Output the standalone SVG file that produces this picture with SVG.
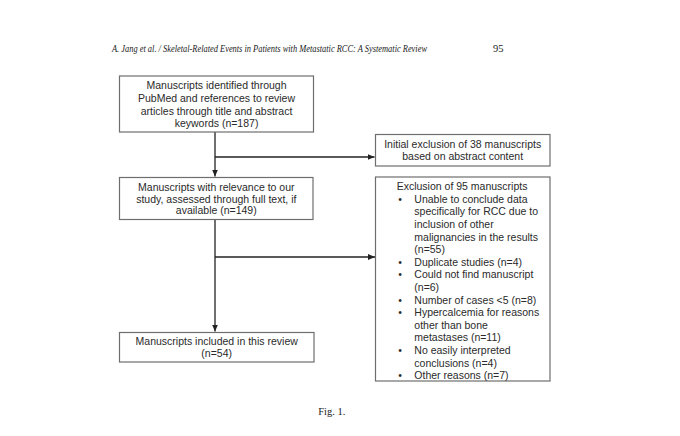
<svg xmlns="http://www.w3.org/2000/svg" width="680" height="436" viewBox="0 0 680 436">
<style>
.bg{fill:#ffffff}
.box{fill:#ffffff;stroke:#6e6e6e;stroke-width:1.2}
.t{font-family:"Liberation Sans",Arial,sans-serif;font-size:10.5px;fill:#2a2a2a}
.c{text-anchor:middle}
.hdr{font-family:"Liberation Serif","Times New Roman",serif;font-style:italic;font-size:10.5px;fill:#222}
.fig{font-family:"Liberation Serif","Times New Roman",serif;font-size:10.5px;fill:#222}
.ln{stroke:#222;stroke-width:1.3;fill:none}
</style>
<defs>
<marker id="ah" markerWidth="8" markerHeight="8" refX="7" refY="4" orient="auto" markerUnits="userSpaceOnUse">
<path d="M0,1 L7,4 L0,7 Z" fill="#222"/>
</marker>
</defs>
<rect class="bg" x="0" y="0" width="680" height="436"/>
<text class="hdr" transform="translate(112,51.5) scale(0.75,1)" x="0" y="0" textLength="420" lengthAdjust="spacingAndGlyphs">A. Jang et al. / Skeletal-Related Events in Patients with Metastatic RCC: A Systematic Review</text>
<text class="fig" x="493" y="51.5">95</text>

<g id="connectors">
<line class="ln" x1="215" y1="132" x2="215" y2="176.5" marker-end="url(#ah)"/>
<line class="ln" x1="215" y1="157" x2="374.5" y2="157" marker-end="url(#ah)"/>
<line class="ln" x1="215" y1="219.5" x2="215" y2="331.5" marker-end="url(#ah)"/>
<line class="ln" x1="215" y1="257" x2="375" y2="257" marker-end="url(#ah)"/>
</g>

<g id="n1">
<rect class="box" x="119.5" y="76" width="194" height="56"/>
<text class="t c" x="216.5" y="89.3">Manuscripts identified through</text>
<text class="t c" x="216.5" y="101.9">PubMed and references to review</text>
<text class="t c" x="216.5" y="114.5">articles through title and abstract</text>
<text class="t c" x="216.5" y="126.9">keywords (n=187)</text>
</g>

<g id="n2">
<rect class="box" x="375.5" y="134.5" width="174.5" height="31.5"/>
<text class="t c" x="462.7" y="147.9">Initial exclusion of 38 manuscripts</text>
<text class="t c" x="462.7" y="160.3">based on abstract content</text>
</g>

<g id="n3">
<rect class="box" x="119.5" y="177.5" width="193.5" height="42"/>
<text class="t c" x="216.3" y="191.3">Manuscripts with relevance to our</text>
<text class="t c" x="216.3" y="202.6">study, assessed through full text, if</text>
<text class="t c" x="216.3" y="213.6">available (n=149)</text>
</g>

<g id="n4">
<rect class="box" x="375.5" y="177" width="174.5" height="204"/>
<text class="t" x="396.7" y="190.2">Exclusion of 95 manuscripts</text>
<g class="t">
<text x="398.2" y="202.8">•</text>
<text x="414.3" y="202.8">Unable to conclude data</text>
<text x="414.3" y="215.4">specifically for RCC due to</text>
<text x="414.3" y="228">inclusion of other</text>
<text x="414.3" y="240.6">malignancies in the results</text>
<text x="414.3" y="253.2">(n=55)</text>
<text x="398.2" y="265.8">•</text>
<text x="414.3" y="265.8">Duplicate studies (n=4)</text>
<text x="398.2" y="278.4">•</text>
<text x="414.3" y="278.4">Could not find manuscript</text>
<text x="414.3" y="291">(n=6)</text>
<text x="398.2" y="303.6">•</text>
<text x="414.3" y="303.6">Number of cases &lt;5 (n=8)</text>
<text x="398.2" y="316.2">•</text>
<text x="414.3" y="316.2">Hypercalcemia for reasons</text>
<text x="414.3" y="328.8">other than bone</text>
<text x="414.3" y="341.4">metastases (n=11)</text>
<text x="398.2" y="354">•</text>
<text x="414.3" y="354">No easily interpreted</text>
<text x="414.3" y="366.6">conclusions (n=4)</text>
<text x="398.2" y="379.2">•</text>
<text x="414.3" y="379.2">Other reasons (n=7)</text>
</g>
</g>

<g id="n5">
<rect class="box" x="119.5" y="332.5" width="194.5" height="29.5"/>
<text class="t c" x="216.7" y="345.3">Manuscripts included in this review</text>
<text class="t c" x="216.7" y="356.9">(n=54)</text>
</g>

<text class="fig" x="331.7" y="415" text-anchor="middle">Fig. 1.</text>
</svg>
